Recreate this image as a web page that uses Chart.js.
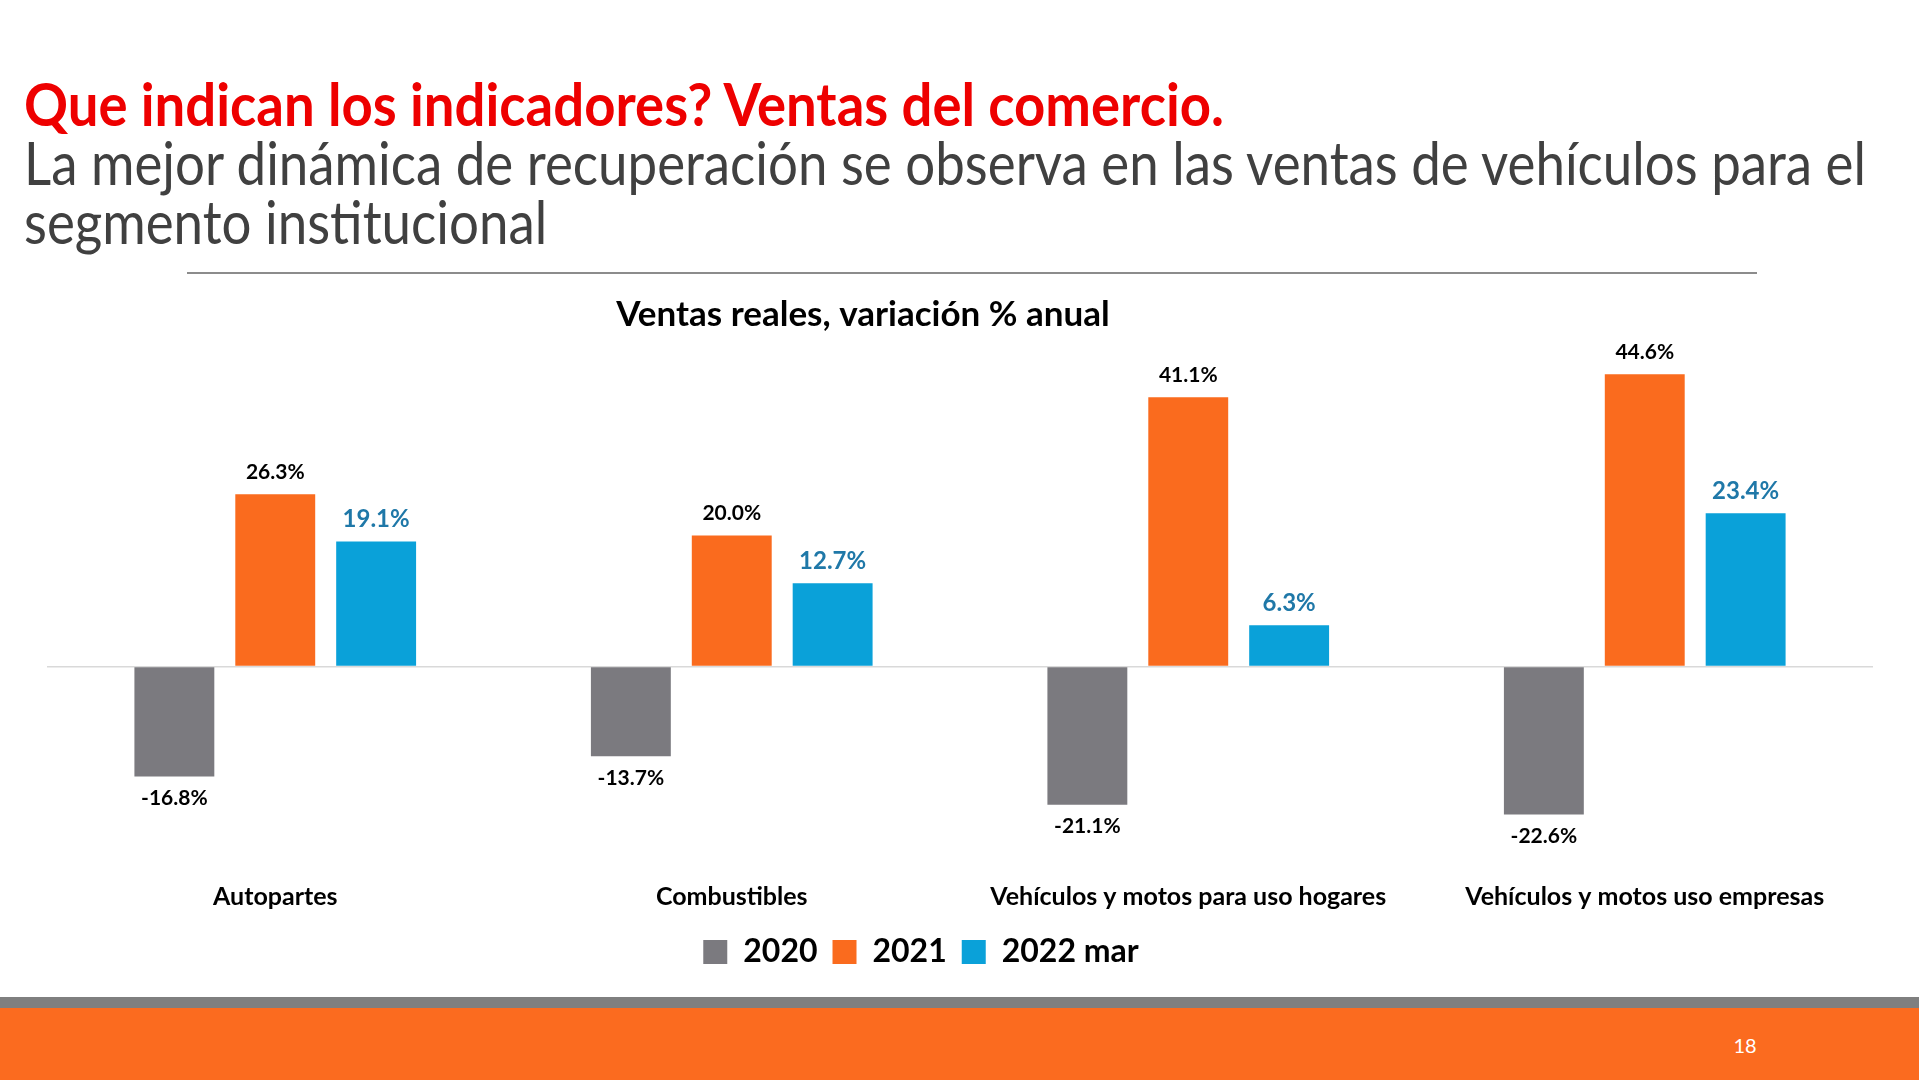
<!DOCTYPE html>
<html>
<head>
<meta charset="utf-8">
<script src="https://cdn.jsdelivr.net/npm/chart.js@4.4.0/dist/chart.umd.min.js"></script>
<style>
  html, body { margin: 0; padding: 0; background: #fff; }
  body { width: 1919px; height: 1080px; position: relative; overflow: hidden; font-family: Lato, "Open Sans", sans-serif; }
  #title { position: absolute; left: 24px; top: 67px; font-size: 60px; line-height: 72px; font-weight: 700; color: #ee0000; white-space: nowrap; transform-origin: 0 0; }
  #subtitle { position: absolute; left: 24px; top: 133px; font-size: 60px; line-height: 59px; color: #404040; white-space: nowrap; transform-origin: 0 0; }
  #rule { position: absolute; left: 187px; top: 272px; width: 1570px; height: 2px; background: #8c8c8c; }
  #chartBox { position: absolute; left: 0; top: 280px; width: 1919px; height: 700px; }
  #band { position: absolute; left: 0; top: 997px; width: 1919px; height: 11px; background: #7f7f7f; }
  #footer { position: absolute; left: 0; top: 1008px; width: 1919px; height: 72px; background: #fb6b1f; }
  #page { position: absolute; left: 1725px; top: 1033px; width: 40px; text-align: center; color: #fff; font-size: 20px; }
</style>
</head>
<body>
<div id="title">Que indican los indicadores? Ventas del comercio.</div>
<div id="subtitle">La mejor dinámica de recuperación se observa en las ventas de vehículos para el<br>segmento institucional</div>
<div id="rule"></div>
<div id="chartBox"><canvas id="ventasChart"></canvas></div>
<div id="band"></div>
<div id="footer"></div>
<div id="page">18</div>

<script>
// Data
const categories = ['Autopartes', 'Combustibles', 'Vehículos y motos para uso hogares', 'Vehículos y motos uso empresas'];
const seriesNames = ['2020', '2021', '2022 mar'];
const values2020 = [-16.8, -13.7, -21.1, -22.6];
const values2021 = [26.3, 20.0, 41.1, 44.6];
const values2022 = [19.1, 12.7, 6.3, 23.4];

const barColors = ['#7b7a7f', '#fa6b1e', '#0aa1d9'];
const labelColors = ['#000000', '#000000', '#1f78a8'];
const labelSizes = [21, 21, 24];

// stretch the slide headings to the width they take on the slide
function fitWidth(id, target) {
  const el = document.getElementById(id);
  el.style.transform = 'none';
  const w = el.getBoundingClientRect().width;
  el.style.transform = 'scaleX(' + (target / w) + ')';
}
fitWidth('title', 1200);
fitWidth('subtitle', 1842);

// value labels above / below each bar
const barLabels = {
  id: 'barLabels',
  afterDatasetsDraw(chart) {
    const ctx = chart.ctx;
    chart.data.datasets.forEach((ds, i) => {
      const meta = chart.getDatasetMeta(i);
      ctx.save();
      ctx.font = 'bold ' + labelSizes[i] + 'px Lato';
      ctx.fillStyle = labelColors[i];
      ctx.textAlign = 'center';
      ctx.textBaseline = 'middle';
      meta.data.forEach((bar, j) => {
        const v = ds.data[j];
        const y = v >= 0 ? bar.y - 22 : bar.y + 22;
        ctx.fillText(v.toFixed(1) + '%', bar.x, y);
      });
      ctx.restore();
    });
  }
};

// title and legend sit left of the plot centre on the slide
const shiftBlocks = {
  id: 'shiftBlocks',
  afterLayout(chart) {
    if (chart.titleBlock) {
      chart.titleBlock.left -= 97;
      chart.titleBlock.right -= 97;
    }
    if (chart.legend) {
      chart.legend.left -= 39;
      chart.legend.right -= 39;
      chart.legend.top -= 2;
      chart.legend.bottom -= 2;
    }
  }
};

Chart.defaults.font.family = 'Lato';
Chart.defaults.color = '#000000';

const ctx = document.getElementById('ventasChart').getContext('2d');
new Chart(ctx, {
  type: 'bar',
  data: {
    labels: categories,
    datasets: [
      { label: seriesNames[0], data: values2020, backgroundColor: barColors[0] },
      { label: seriesNames[1], data: values2021, backgroundColor: barColors[1] },
      { label: seriesNames[2], data: values2022, backgroundColor: barColors[2] }
    ]
  },
  options: {
    responsive: true,
    maintainAspectRatio: false,
    animation: false,
    categoryPercentage: 0.663,
    barPercentage: 0.792,
    layout: { padding: { left: 47, right: 46, top: 0, bottom: 0 } },
    scales: {
      x: {
        grid: { display: false },
        border: { display: false },
        ticks: {
          padding: 11,
          color: '#000000',
          font: { size: 25, weight: 'bold' }
        }
      },
      y: {
        min: -30,
        max: 50,
        ticks: { display: false, stepSize: 10 },
        border: { display: false },
        grid: {
          drawTicks: false,
          lineWidth: 1.5,
          color: (c) => (c.tick && c.tick.value === 0 ? '#d9d9d9' : 'rgba(0,0,0,0)')
        }
      }
    },
    plugins: {
      title: {
        display: true,
        text: 'Ventas reales, variación % anual',
        color: '#000000',
        font: { size: 35, weight: 'bold' },
        padding: { top: 14, bottom: 3 }
      },
      legend: {
        display: true,
        position: 'bottom',
        labels: {
          boxWidth: 24,
          boxHeight: 24,
          padding: 15,
          color: '#000000',
          font: { size: 32, weight: 'bold' }
        }
      },
      tooltip: { enabled: false }
    }
  },
  plugins: [barLabels, shiftBlocks]
});
</script>
</body>
</html>
